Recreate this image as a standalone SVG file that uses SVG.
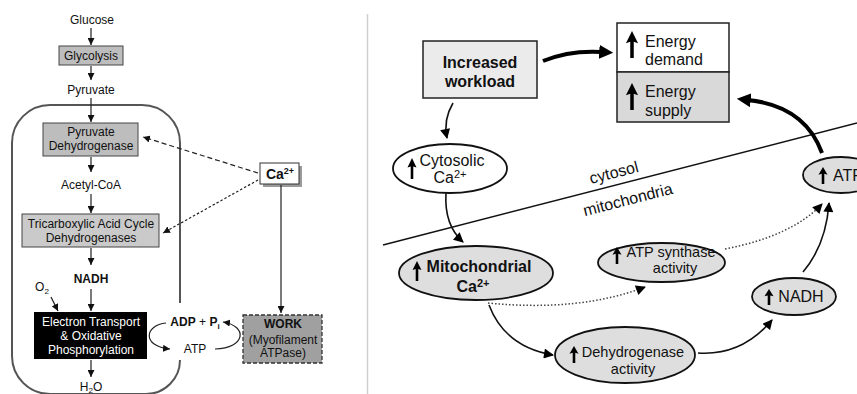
<svg xmlns="http://www.w3.org/2000/svg" width="857" height="394" viewBox="0 0 857 394">
<style>
text{font-family:"Liberation Sans",Arial,sans-serif;fill:#111}
.l{font-size:12px;text-anchor:middle}
.r{font-size:16px}
.s{font-size:14.5px}
.b{font-weight:bold}
.box{fill:#bdbdbd;stroke:#444;stroke-width:1}
.ln{fill:none;stroke:#222;stroke-width:1.2}
.rl{fill:none;stroke:#111;stroke-width:1.6}
.th{fill:none;stroke:#000;stroke-width:4}
.dot{fill:none;stroke:#444;stroke-width:1.5;stroke-dasharray:1.5 2}
.ell{fill:#dedede;stroke:#111;stroke-width:1.8}
</style>
<defs>
<marker id="a" viewBox="0 0 10 10" refX="10" refY="5" markerWidth="7" markerHeight="7" markerUnits="userSpaceOnUse" orient="auto"><path d="M0,0 L10,5 L0,10 z" fill="#111"/></marker>
<marker id="b" viewBox="0 0 10 10" refX="9" refY="5" markerWidth="11" markerHeight="10" markerUnits="userSpaceOnUse" orient="auto"><path d="M0,0 L10,5 L0,10 z" fill="#000"/></marker>
<marker id="c" viewBox="0 0 10 10" refX="2" refY="5" markerWidth="14" markerHeight="14" markerUnits="userSpaceOnUse" orient="auto"><path d="M0,0 L10,5 L0,10 z" fill="#000"/></marker>
<path id="up" d="M0,0 L4.5,9 L1.3,8 L1.3,20 L-1.3,20 L-1.3,8 L-4.5,9 Z" fill="#000"/>
</defs>

<line x1="367.5" y1="14" x2="367.5" y2="394" stroke="#cfcfcf" stroke-width="1.5"/>

<!-- mitochondrion outline -->
<path d="M180,303 L180,143 A38,38 0 0 0 142,105 L50,105 A38,38 0 0 0 12,143 L12,356 A38,38 0 0 0 50,394 L146,394 A34,34 0 0 0 180,360" fill="none" stroke="#555" stroke-width="2"/>
<rect x="179" y="304" width="3" height="55" fill="#fff"/>

<g id="glucose"><text class="l" x="92" y="24">Glucose</text></g>
<g id="glycolysis"><rect class="box" x="59" y="46" width="64" height="19"/><text class="l" x="91" y="60">Glycolysis</text></g>
<g id="pyruvate"><text class="l" x="91" y="94">Pyruvate</text></g>
<g id="pdh"><rect class="box" x="43" y="123" width="95" height="33"/><text class="l" x="91" y="136">Pyruvate</text><text class="l" x="91" y="150">Dehydrogenase</text></g>
<g id="acetylcoa"><text class="l" x="91" y="189">Acetyl-CoA</text></g>
<g id="tca"><rect class="box" x="22" y="214" width="137" height="33" fill="#cacaca" style="fill:#cacaca"/><text class="l" x="91" y="228">Tricarboxylic Acid Cycle</text><text class="l" x="91" y="242">Dehydrogenases</text></g>
<g id="nadh-l"><text class="l b" x="91" y="283">NADH</text></g>
<g id="o2"><text class="l" x="42" y="291">O<tspan font-size="8" dy="3">2</tspan></text></g>
<g id="etc"><rect x="34" y="312" width="113" height="47" fill="#000"/><text class="l" x="91" y="326" style="fill:#fff">Electron Transport</text><text class="l" x="91" y="340" style="fill:#fff">&amp; Oxidative</text><text class="l" x="91" y="354" style="fill:#fff">Phosphorylation</text></g>
<g id="h2o"><text class="l" x="91" y="391">H<tspan font-size="8" dy="2">2</tspan><tspan dy="-2">O</tspan></text></g>
<g id="adp"><text class="l" x="195" y="326"><tspan class="b">ADP</tspan> + <tspan class="b">P</tspan><tspan font-size="8" dy="3" class="b">i</tspan></text></g>
<g id="atp-l"><text class="l" x="195" y="353">ATP</text></g>
<g id="ca-l"><rect x="263" y="166" width="39" height="21" fill="#9a9a9a"/><rect x="260" y="163" width="39" height="21" fill="#fff" stroke="#333" stroke-width="1"/><text x="280" y="179" style="font-size:14px;font-weight:bold;text-anchor:middle">Ca<tspan font-size="9" dy="-5">2+</tspan></text></g>
<g id="work"><rect x="243" y="315" width="79" height="48" fill="#a0a0a0" stroke="#333" stroke-width="1.3" stroke-dasharray="4 2"/><text class="l b" x="283" y="328">WORK</text><text class="l" x="283" y="344">(Myofilament</text><text class="l" x="283" y="357">ATPase)</text></g>

<g id="connectors-left">
<line class="ln" x1="91" y1="28" x2="91" y2="45" marker-end="url(#a)"/>
<line class="ln" x1="91" y1="66" x2="91" y2="80" marker-end="url(#a)"/>
<line class="ln" x1="91" y1="98" x2="91" y2="122" marker-end="url(#a)"/>
<line class="ln" x1="91" y1="157" x2="91" y2="172" marker-end="url(#a)"/>
<line class="ln" x1="91" y1="194" x2="91" y2="213" marker-end="url(#a)"/>
<line class="ln" x1="91" y1="248" x2="91" y2="265" marker-end="url(#a)"/>
<line class="ln" x1="91" y1="289" x2="91" y2="311" marker-end="url(#a)"/>
<line class="ln" x1="51" y1="297" x2="58" y2="311" marker-end="url(#a)"/>
<line class="ln" x1="91" y1="360" x2="91" y2="377" marker-end="url(#a)"/>
<line class="ln" x1="258" y1="173" x2="143" y2="137" stroke-dasharray="5 3" marker-end="url(#a)"/>
<line class="ln" x1="258" y1="180" x2="163" y2="233" stroke-dasharray="2.5 2" marker-end="url(#a)"/>
<line class="ln" x1="281" y1="185" x2="281" y2="313" marker-end="url(#a)"/>
<path class="ln" d="M166,323 C145,325 141,346 170,349" marker-end="url(#a)"/>
<path class="ln" d="M215,349 C246,348 248,326 223,322" marker-end="url(#a)"/>
</g>

<!-- right panel -->
<line x1="383" y1="245" x2="857" y2="123" stroke="#111" stroke-width="1.4"/>
<text class="r" x="614" y="178" text-anchor="middle" transform="rotate(-14.4 614 173)">cytosol</text>
<text class="r" x="628" y="205" text-anchor="middle" transform="rotate(-14.4 628 200)">mitochondria</text>

<g id="workload"><rect x="423" y="41" width="114" height="57" fill="#ebebeb" stroke="#222" stroke-width="1.5"/><text class="r b" x="480" y="68" text-anchor="middle">Increased</text><text class="r b" x="480" y="87" text-anchor="middle">workload</text></g>
<g id="energy"><rect x="617" y="23" width="112" height="49" fill="#fff" stroke="#222" stroke-width="1.5"/><rect x="617" y="72" width="112" height="50" fill="#d9d9d9" stroke="#222" stroke-width="1.5"/>
<use href="#up" transform="translate(632,31) scale(1.35)"/><use href="#up" transform="translate(632,83) scale(1.35)"/>
<text class="r" x="645" y="47">Energy</text><text class="r" x="645" y="65">demand</text><text class="r" x="645" y="97">Energy</text><text class="r" x="645" y="116">supply</text></g>
<g id="cytosolic"><ellipse cx="450" cy="168.5" rx="57" ry="24.5" fill="#fff" stroke="#111" stroke-width="1.8"/><use href="#up" transform="translate(412,158) scale(1,1.05)"/><text class="r" x="452" y="166" text-anchor="middle">Cytosolic</text><text class="r" x="450" y="183" text-anchor="middle">Ca<tspan font-size="11" dy="-5">2+</tspan></text></g>
<g id="mitoca"><ellipse class="ell" cx="476" cy="273" rx="77" ry="27"/><use href="#up" transform="translate(417,261)"/><text class="r b" x="479" y="272" text-anchor="middle">Mitochondrial</text><text class="r b" x="473" y="292" text-anchor="middle">Ca<tspan font-size="11" dy="-5">2+</tspan></text></g>
<g id="atpsynthase"><ellipse class="ell" cx="661.5" cy="262.5" rx="63.5" ry="19.5"/><use href="#up" transform="translate(617,247) scale(1,0.85)"/><text class="s" x="671" y="257" text-anchor="middle">ATP synthase</text><text class="s" x="675" y="273" text-anchor="middle">activity</text></g>
<g id="dehydrogenase"><ellipse class="ell" cx="625" cy="355" rx="70" ry="28"/><use href="#up" transform="translate(574,346) scale(1,0.85)"/><text class="s" x="633" y="357" text-anchor="middle">Dehydrogenase</text><text class="s" x="633" y="374" text-anchor="middle">activity</text></g>
<g id="nadh-r"><ellipse class="ell" cx="794" cy="296.5" rx="42" ry="18.5"/><use href="#up" transform="translate(769,289) scale(1,0.8)"/><text class="r" x="801" y="302" text-anchor="middle">NADH</text></g>
<g id="atp-r"><ellipse class="ell" cx="841" cy="175" rx="38" ry="18"/><use href="#up" transform="translate(823,167) scale(1,0.85)"/><text class="r" x="833" y="181">ATP</text></g>

<g id="connectors-right">
<path class="th" d="M543,61 Q570,50 602,52" marker-end="url(#c)"/>
<path class="th" d="M822,153 Q805,106 748,100" marker-end="url(#c)"/>
<path class="rl" d="M453,103 Q443,120 447,138" marker-end="url(#b)"/>
<path class="rl" d="M446,193 Q444,225 463,242" marker-end="url(#b)"/>
<path class="dot" d="M488,303 Q580,312 645,287" marker-end="url(#b)"/>
<path class="dot" d="M725,249 Q792,236 822,204" marker-end="url(#b)"/>
<path class="rl" d="M489,305 Q505,347 553,355" marker-end="url(#b)"/>
<path class="rl" d="M698,353 Q742,356 772,320" marker-end="url(#b)"/>
<path class="rl" d="M803,272 Q826,245 829,203" marker-end="url(#b)"/>
</g>
</svg>
